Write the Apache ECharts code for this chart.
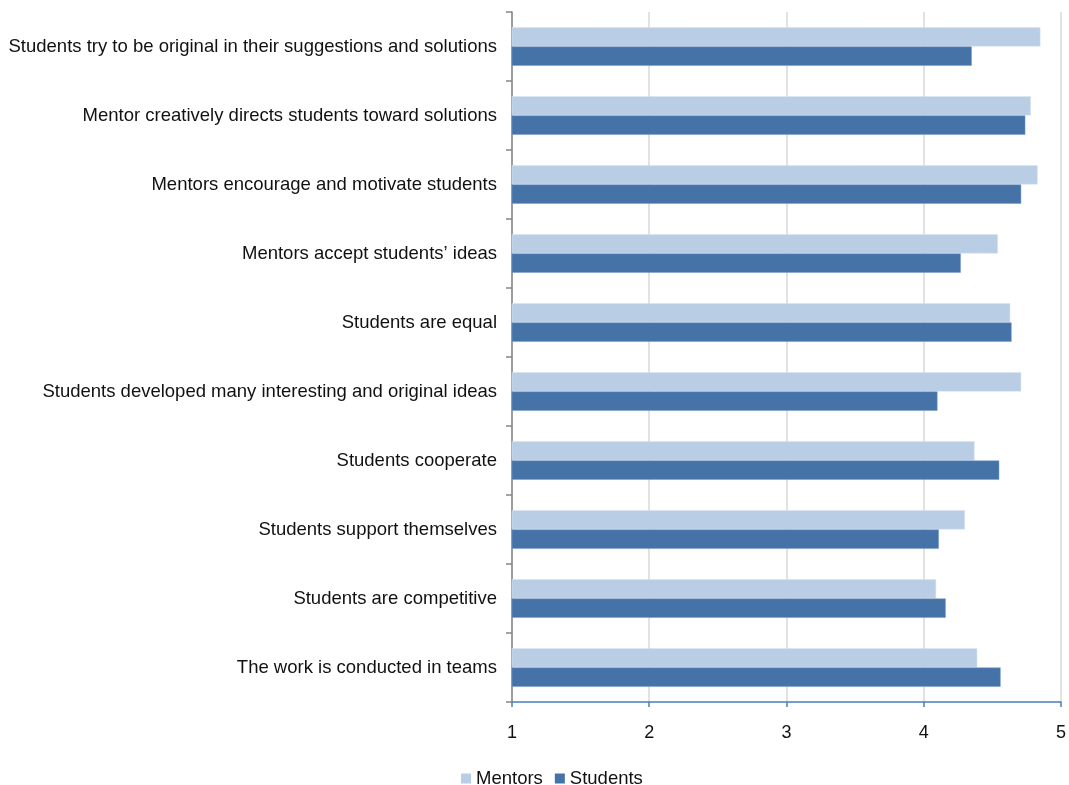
<!DOCTYPE html>
<html><head><meta charset="utf-8">
<script src="https://cdn.jsdelivr.net/npm/echarts@6/dist/echarts.min.js"></script>
<style>html,body{margin:0;padding:0;background:#fff}#c{width:1069px;height:785px}</style>
</head><body><div id="c"></div>
<script>
const categories = [
  "Students try to be original in their suggestions and solutions",
  "Mentor creatively directs students toward solutions",
  "Mentors encourage and motivate students",
  "Mentors accept students’ ideas",
  "Students are equal",
  "Students developed many interesting and original ideas",
  "Students cooperate",
  "Students support themselves",
  "Students are competitive",
  "The work is conducted in teams"
];
const mentors  = [4.85, 4.78, 4.83, 4.54, 4.63, 4.71, 4.37, 4.30, 4.09, 4.39];
const students = [4.35, 4.74, 4.71, 4.27, 4.64, 4.10, 4.55, 4.11, 4.16, 4.56];
const xTicks = [1, 2, 3, 4, 5];

const chart = echarts.init(document.getElementById('c'));
chart.setOption({
  animation: false,
  textStyle: { fontFamily: 'Liberation Sans, Arial, sans-serif' },
  grid: { left: 512, right: 8, top: 12, bottom: 83, containLabel: false },
  legend: {
    top: 764, left: 456, itemWidth: 10, itemHeight: 10, itemGap: 12,
    icon: 'rect',
    itemStyle: { borderWidth: 0 },
    textStyle: { fontSize: 18.5, color: '#111' },
    data: ['Mentors', 'Students']
  },
  xAxis: {
    type: 'value', min: xTicks[0], max: xTicks[xTicks.length - 1], interval: 1,
    axisLine: { show: true, lineStyle: { color: '#4a7ebb', width: 1.5 } },
    axisTick: { show: true, length: 5, lineStyle: { color: '#4a7ebb', width: 1.5 } },
    axisLabel: { fontSize: 18, color: '#111', margin: 22 },
    splitLine: { show: true, lineStyle: { color: '#d9d9d9', width: 1.5 } }
  },
  yAxis: {
    type: 'category', data: categories, inverse: true,
    axisLine: { show: true, lineStyle: { color: '#868686', width: 1.5 } },
    axisTick: { show: true, length: 6, lineStyle: { color: '#868686', width: 1.5 } },
    axisLabel: { fontSize: 18.5, color: '#111', margin: 15 },
    splitLine: { show: false }
  },
  series: [
    { name: 'Mentors', type: 'bar', data: mentors, barGap: '0%', barCategoryGap: '44%',
      itemStyle: { color: '#b9cde5', borderColor: '#dbe5f1', borderWidth: 0.5 } },
    { name: 'Students', type: 'bar', data: students, barGap: '0%', barCategoryGap: '44%',
      itemStyle: { color: '#4572a7', borderColor: '#7a9cc6', borderWidth: 0.5 } }
  ]
});
</script></body></html>
